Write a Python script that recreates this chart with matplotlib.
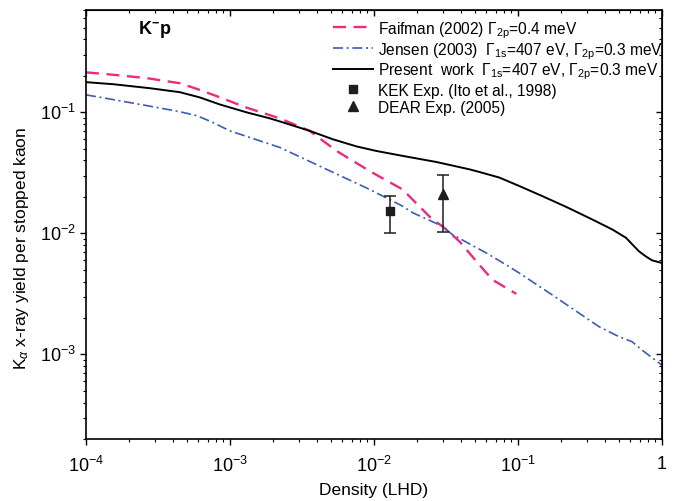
import numpy as np
import matplotlib
matplotlib.use("Agg")
import matplotlib.pyplot as plt
from matplotlib.lines import Line2D
from matplotlib.ticker import LogLocator, NullFormatter, FixedLocator, FixedFormatter

plt.rcParams['font.family'] = ['Liberation Sans', 'DejaVu Sans']
plt.rcParams['mathtext.fontset'] = 'custom'
plt.rcParams['mathtext.rm'] = 'Liberation Sans'
plt.rcParams['mathtext.it'] = 'Liberation Sans:italic'
plt.rcParams['mathtext.bf'] = 'Liberation Sans:bold'

# ---- data (log10 values) ----
present_logx = [-4.0, -3.811, -3.556, -3.348, -3.21, -3.071, -2.886, -2.724, -2.655, -2.447,
                -2.288, -2.121, -1.985, -1.802, -1.569, -1.338, -1.268, -1.130, -0.991,
                -0.832, -0.668, -0.485, -0.345, -0.250, -0.205, -0.159, -0.113, -0.069, 0.0]
present_logy = [-0.751, -0.768, -0.801, -0.834, -0.877, -0.935, -1.000, -1.050, -1.075, -1.153,
                -1.222, -1.282, -1.319, -1.360, -1.410, -1.471, -1.493, -1.539, -1.609,
                -1.692, -1.780, -1.885, -1.968, -2.037, -2.093, -2.149, -2.190, -2.223, -2.245]

faifman_logx = [-4.0, -3.811, -3.577, -3.348, -3.21, -3.071, -2.886, -2.655, -2.447, -2.260,
                -2.031, -1.802, -1.594, -1.525, -1.407, -1.269, -1.178, -1.012]
faifman_logy = [-0.670, -0.690, -0.718, -0.760, -0.815, -0.876, -0.961, -1.050, -1.153, -1.319,
                -1.485, -1.637, -1.886, -1.941, -2.066, -2.259, -2.383, -2.500]

jensen_logx = [-4.0, -3.811, -3.577, -3.348, -3.230, -3.120, -3.002, -2.842, -2.724, -2.655,
               -2.031, -1.802, -1.731, -1.525, -1.456, -1.220, -1.084, -0.991, -0.763,
               -0.575, -0.437, -0.298, -0.208, -0.139, 0.0]
jensen_logy = [-0.856, -0.895, -0.945, -0.995, -1.028, -1.083, -1.153, -1.216, -1.263, -1.290,
               -1.637, -1.775, -1.830, -1.941, -2.010, -2.162, -2.259, -2.328, -2.508,
               -2.660, -2.771, -2.854, -2.895, -2.964, -3.089]

kek_x, kek_y, kek_lo, kek_hi = 0.013, 0.0152, 0.0101, 0.0203
dear_x, dear_y, dear_lo, dear_hi = 0.030, 0.021, 0.0102, 0.0303

labels = [r"Faifman (2002) $\Gamma_{\mathrm{2p}}$=0.4 meV",
          r"Jensen (2003)  $\Gamma_{\mathrm{1s}}$=407 eV, $\Gamma_{\mathrm{2p}}$=0.3 meV",
          r"Present  work  $\Gamma_{\mathrm{1s}}$=407 eV, $\Gamma_{\mathrm{2p}}$=0.3 meV",
          "KEK Exp. (Ito et al., 1998)",
          "DEAR Exp. (2005)"]

xticks = [1e-4, 1e-3, 1e-2, 1e-1, 1]
xtick_labels = [r"10$^{-4}$", r"10$^{-3}$", r"10$^{-2}$", r"10$^{-1}$", "1"]
yticks = [1e-3, 1e-2, 1e-1]
ytick_labels = [r"10$^{-3}$", r"10$^{-2}$", r"10$^{-1}$"]

fig = plt.figure(figsize=(6.73, 5.01), dpi=100)
ax = fig.add_axes([86/673, 1-439/501, 576/673, 429/501])

pink = '#EC2A7E'
blue = '#3A5CB8'
mk = '#1e1e1e'

pink_ls = (0, (5.5, 3.2))
blue_ls = (0, (6, 2.2, 1.2, 2.2))

ax.plot(10**np.array(faifman_logx), 10**np.array(faifman_logy), color=pink, lw=1.7,
        linestyle=pink_ls)
ax.plot(10**np.array(jensen_logx), 10**np.array(jensen_logy), color=blue, lw=1.2,
        linestyle=blue_ls)
ax.plot(10**np.array(present_logx), 10**np.array(present_logy), color='black', lw=1.4)

ax.errorbar([kek_x], [kek_y], yerr=[[kek_y-kek_lo], [kek_hi-kek_y]], fmt='s', color=mk,
            ms=6, capsize=4, elinewidth=1.1, capthick=1.1)
ax.errorbar([dear_x], [dear_y], yerr=[[dear_y-dear_lo], [dear_hi-dear_y]], fmt='^', color=mk,
            ms=7.5, capsize=4, elinewidth=1.1, capthick=1.1)

ax.set_xscale('log')
ax.set_yscale('log')
ax.set_xlim(1e-4, 1)
ax.set_ylim(2e-4, 0.7)

ax.xaxis.set_major_locator(FixedLocator(xticks))
ax.xaxis.set_major_formatter(FixedFormatter(xtick_labels))
ax.yaxis.set_major_locator(FixedLocator(yticks))
ax.yaxis.set_major_formatter(FixedFormatter(ytick_labels))
ax.xaxis.set_minor_locator(LogLocator(base=10, subs=np.arange(2, 10), numticks=20))
ax.yaxis.set_minor_locator(LogLocator(base=10, subs=np.arange(2, 10), numticks=20))
ax.xaxis.set_minor_formatter(NullFormatter())
ax.yaxis.set_minor_formatter(NullFormatter())
ax.tick_params(axis='x', which='major', direction='out', length=4.5, width=1.0, labelsize=13, pad=8)
ax.tick_params(axis='y', which='major', direction='out', length=4.5, width=1.0, labelsize=13, pad=3)
ax.tick_params(which='minor', direction='out', length=2.5, width=0.8)

for sp in ax.spines.values():
    sp.set_linewidth(1.2)

# inward ticks on top and right
secx = ax.secondary_xaxis('top')
secx.set_xscale('log')
secx.xaxis.set_major_locator(FixedLocator(xticks))
secx.xaxis.set_minor_locator(LogLocator(base=10, subs=np.arange(2, 10), numticks=20))
secx.xaxis.set_major_formatter(NullFormatter())
secx.xaxis.set_minor_formatter(NullFormatter())
secx.tick_params(which='major', direction='in', length=4.5, width=1.0)
secx.tick_params(which='minor', direction='in', length=2.5, width=0.8)
secy = ax.secondary_yaxis('right')
secy.set_yscale('log')
secy.yaxis.set_major_locator(FixedLocator(yticks))
secy.yaxis.set_minor_locator(LogLocator(base=10, subs=np.arange(2, 10), numticks=20))
secy.yaxis.set_major_formatter(NullFormatter())
secy.yaxis.set_minor_formatter(NullFormatter())
secy.tick_params(which='major', direction='in', length=4.5, width=1.0)
secy.tick_params(which='minor', direction='in', length=2.5, width=0.8)

ax.set_xlabel("Density (LHD)", fontsize=12.5, labelpad=5)
ax.set_ylabel(r"K$_\alpha$ x-ray yield per stopped kaon", fontsize=12.5)
ax.yaxis.set_label_coords(-0.095, (439-248)/429)

ax.text((138-86)/576, (439-30)/429, r"$\mathbf{K^{-}p}$", transform=ax.transAxes,
        fontsize=13, va='center', ha='left')

handles = [Line2D([], [], color=pink, lw=1.7, linestyle=pink_ls),
           Line2D([], [], color=blue, lw=1.2, linestyle=blue_ls),
           Line2D([], [], color='black', lw=1.4),
           Line2D([], [], color=mk, marker='s', ms=6, linestyle='none'),
           Line2D([], [], color=mk, marker='^', ms=7.5, linestyle='none')]
leg = ax.legend(handles, labels, loc='upper left', bbox_to_anchor=((333-86)/576, (439-20)/429),
                frameon=False, fontsize=11.2, handlelength=2.57, handletextpad=0.32,
                handleheight=1.25, labelspacing=0.02, borderpad=0, borderaxespad=0)

fig.savefig("out.png", dpi=100)
